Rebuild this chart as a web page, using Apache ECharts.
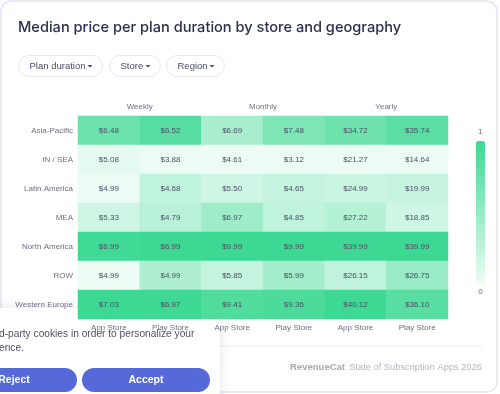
<!DOCTYPE html>
<html>
<head>
<meta charset="utf-8">
<script src="https://cdn.jsdelivr.net/npm/echarts@6/dist/echarts.min.js"></script>
<style>
html,body{margin:0;padding:0;background:#fff;}
#main{width:500px;height:394px;}
</style>
</head>
<body>
<div id="main"></div>
<script>
var regions = ['Asia-Pacific', 'IN / SEA', 'Latin America', 'MEA', 'North America', 'ROW', 'Western Europe'];
var durations = ['Weekly', 'Monthly', 'Yearly'];
var stores = ['App Store', 'Play Store', 'App Store', 'Play Store', 'App Store', 'Play Store'];
// one array per column, in region order
var weeklyApp = [6.48, 5.08, 4.99, 5.33, 6.99, 4.99, 7.03];
var weeklyPlay = [6.52, 3.88, 4.68, 4.79, 6.99, 4.99, 6.97];
var monthlyApp = [6.69, 4.61, 5.50, 6.97, 9.99, 5.85, 9.41];
var monthlyPlay = [7.48, 3.12, 4.65, 4.85, 9.99, 5.99, 9.36];
var yearlyApp = [34.72, 21.27, 24.99, 27.22, 39.99, 26.15, 40.12];
var yearlyPlay = [35.74, 14.64, 19.99, 18.85, 39.99, 26.75, 36.10];
var columns = [weeklyApp, weeklyPlay, monthlyApp, monthlyPlay, yearlyApp, yearlyPlay];

var font = 'Liberation Sans, Arial, sans-serif';

function buildData(){
	var out = [];
	for(var c=0;c<columns.length;c++){
		var col = columns[c];
		var mn = Math.min.apply(null, col);
		var mx = Math.max.apply(null, col);
		for(var r=0;r<col.length;r++){
			// colour is scaled inside each column
			out.push([c, r, (col[r]-mn)/(mx-mn), col[r]]);
		}
	}
	return out;
}

function pill(x, w, label){
	return {
		type: 'group', left: x, top: 55,
		children: [
			{type:'rect', shape:{x:0,y:0,width:w,height:21,r:10.5}, style:{fill:'#fff',stroke:'#e8e8ef',lineWidth:1}},
			{type:'text', style:{x:11,y:10.5,text:label,fill:'#4a4c66',font:'9.5px '+font,verticalAlign:'middle'}},
			{type:'polygon', shape:{points:[[w-15,9.5],[w-10,9.5],[w-12.5,12]]}, style:{fill:'#4a4c66'}}
		]
	};
}

var myChart = echarts.init(document.getElementById('main'));
var option = {
	animation: false,
	backgroundColor: '#fff',
	title: {
		text: 'Median price per plan duration by store and geography',
		left: 18, top: 20, padding: 0,
		textStyle: {fontFamily:'Inter', fontSize:14.6, fontWeight:500, color:'#2c2e4c'}
	},
	grid: {left:78, right:52, top:116, bottom:75},
	xAxis: [{
		type: 'category',
		data: stores,
		position: 'bottom',
		axisLine: {show:false}, axisTick: {show:false}, splitLine: {show:false},
		axisLabel: {fontFamily:font, fontSize:8, color:'#6d6f86', margin:5}
	},{
		type: 'category',
		data: durations,
		position: 'top',
		axisLine: {show:false}, axisTick: {show:false}, splitLine: {show:false},
		axisLabel: {fontFamily:font, fontSize:8, color:'#6d6f86', margin:5}
	}],
	yAxis: {
		type: 'category',
		data: regions,
		inverse: true,
		axisLine: {show:false}, axisTick: {show:false}, splitLine: {show:false},
		axisLabel: {fontFamily:font, fontSize:8, color:'#6d6f86', margin:5}
	},
	visualMap: {
		type: 'continuous',
		min: 0, max: 1,
		dimension: 2,
		seriesIndex: 0,
		orient: 'vertical',
		left: 461, top: 113,
		itemWidth: 9, itemHeight: 142,
		text: ['1', '0'],
		textGap: 5,
		textStyle: {fontFamily:font, fontSize:8, color:'#6d6f86'},
		inRange: {color: ['#ecfcf4', '#3dd893']}
	},
	series: [{
		type: 'heatmap',
		xAxisIndex: 0,
		data: buildData(),
		label: {
			show: true,
			fontFamily: font, fontSize: 8, color: '#4b5063',
			formatter: function(p){ return '$' + p.value[3].toFixed(2); }
		},
		emphasis: {disabled:true}
	}],
	graphic: [
		{type:'rect', z:-10, shape:{x:1,y:1,width:496,height:391,r:10}, style:{fill:'#fff',stroke:'#e2e5f6',lineWidth:1.5}},
		pill(18, 84, 'Plan duration'),
		pill(109, 51, 'Store'),
		pill(166, 58, 'Region'),
		{type:'line', shape:{x1:0,y1:346,x2:482,y2:346}, style:{stroke:'#eff0f7',lineWidth:1.5}},
		{type:'text', style:{x:345,y:367,text:'RevenueCat',fill:'#a7a8b9',font:'bold 9.5px '+font,align:'right',verticalAlign:'middle'}},
		{type:'text', style:{x:482,y:367,text:'State of Subscription Apps 2026',fill:'#b3b4c5',font:'9.3px '+font,align:'right',verticalAlign:'middle'}},
		// cookie banner laid over the bottom left
		{type:'group', z:100, children:[
			{type:'rect', shape:{x:-20,y:308,width:240,height:110,r:7}, style:{fill:'#fff',shadowBlur:12,shadowColor:'rgba(40,40,80,0.12)'}},
			{type:'text', style:{x:-1,y:334,text:'d-party cookies in order to personalize your',fill:'#4d4f66',font:'10.2px '+font,verticalAlign:'middle'}},
			{type:'text', style:{x:-1,y:348,text:'ence.',fill:'#4d4f66',font:'10.2px '+font,verticalAlign:'middle'}},
			{type:'rect', shape:{x:-40,y:368,width:117,height:24,r:12}, style:{fill:'#5569d9'}},
			{type:'text', style:{x:14,y:380,text:'Reject',fill:'#fff',font:'bold 10.5px '+font,align:'center',verticalAlign:'middle'}},
			{type:'rect', shape:{x:82,y:368,width:128,height:24,r:12}, style:{fill:'#5569d9'}},
			{type:'text', style:{x:146,y:380,text:'Accept',fill:'#fff',font:'bold 10.5px '+font,align:'center',verticalAlign:'middle'}}
		]}
	]
};
myChart.setOption(option);
</script>
</body>
</html>
